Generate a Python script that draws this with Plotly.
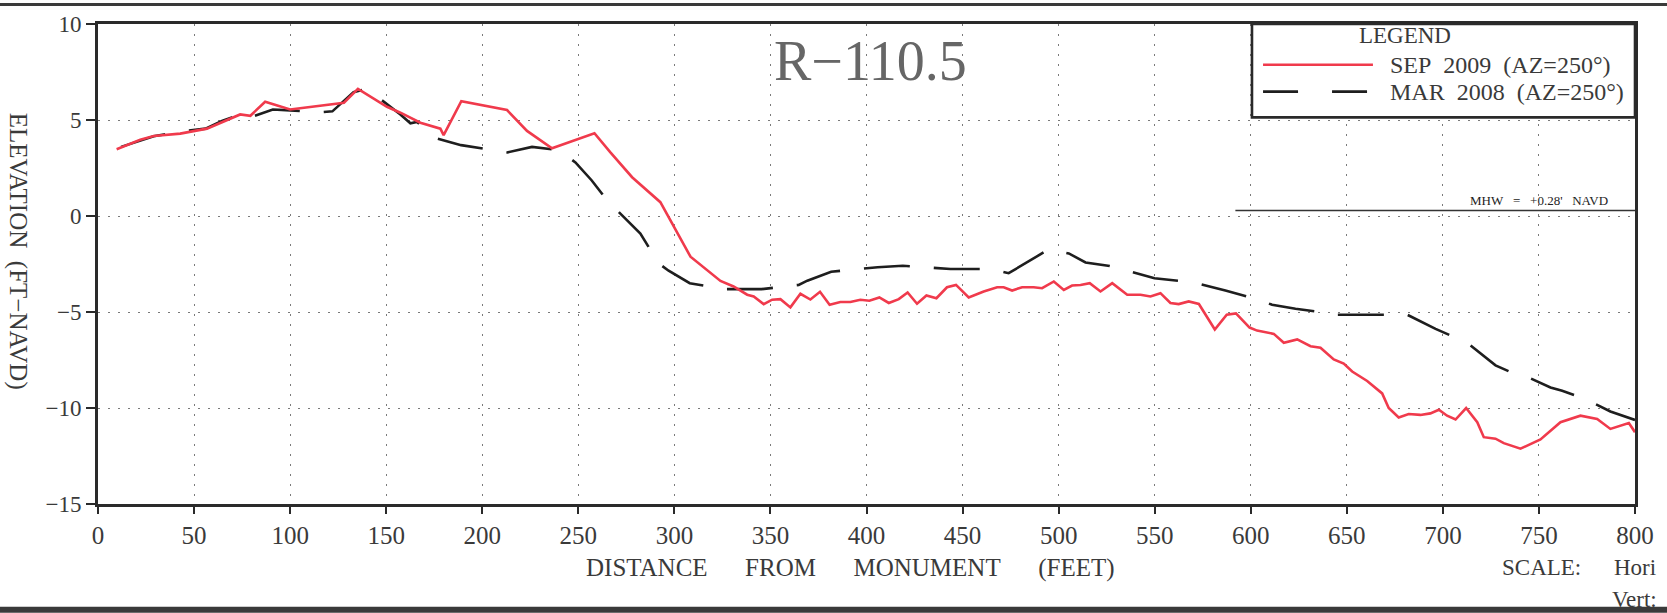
import plotly.graph_objects as go

# ---------------- data ----------------
sep2009_dist = [9.7, 22, 29, 42.8, 56.7, 74, 79.3, 87, 100, 128, 135.3, 150.4, 157.4, 167.8,
                178.2, 179.9, 189.1, 212.9, 223.3, 236.3, 258.4, 266.7, 278, 292.7, 308.4,
                324, 330.8, 337.9, 341.3, 346.5, 350.9, 355.2, 360.4, 365.6, 370.8, 375.8,
                380.8, 386.4, 391.6, 396.8, 401.5, 406.7, 411.6, 416.8, 421.4, 426.3, 431.2,
                436.4, 441.9, 446.6, 453.2, 461, 468, 471.4, 475.8, 481, 487, 491.4, 497.5,
                502.7, 507, 511.4, 516.2, 521.8, 527.9, 535.7, 542.6, 547.8, 553, 558.2,
                562.5, 567.7, 573, 581.3, 587.5, 592.3, 599.4, 603.3, 612, 617.2, 624.2,
                631.1, 636.3, 643.2, 648.4, 652.8, 660.6, 668.4, 671.8, 677, 682.2, 688.3,
                693.5, 697.9, 702.2, 706.6, 712.1, 717.9, 721.3, 727.4, 731.7, 740.4, 750.8,
                756, 761.2, 771.6, 780.3, 787.2, 796.8, 800]
sep2009_elev = [3.48, 3.97, 4.17, 4.29, 4.55, 5.29, 5.22, 5.95, 5.55, 5.9, 6.62, 5.69, 5.38, 4.86,
                4.55, 4.21, 5.98, 5.52, 4.43, 3.53, 4.31, 3.31, 2.02, 0.72, -2.12,
                -3.38, -3.67, -4.1, -4.19, -4.59, -4.36, -4.33, -4.76, -4.05, -4.35, -3.95,
                -4.62, -4.48, -4.48, -4.36, -4.41, -4.24, -4.53, -4.33, -3.98, -4.57, -4.14,
                -4.28, -3.71, -3.59, -4.24, -3.93, -3.71, -3.71, -3.88, -3.71, -3.71, -3.76, -3.41,
                -3.85, -3.62, -3.59, -3.5, -3.93, -3.5, -4.1, -4.1, -4.19, -4.02, -4.53,
                -4.59, -4.45, -4.58, -5.91, -5.14, -5.07, -5.81, -5.97, -6.14, -6.6, -6.43,
                -6.78, -6.86, -7.47, -7.69, -8.1, -8.59, -9.24, -10.0, -10.49, -10.31, -10.36,
                -10.28, -10.09, -10.4, -10.6, -10.0, -10.74, -11.52, -11.6, -11.83, -12.12, -11.64,
                -11.17, -10.74, -10.4, -10.57, -11.09, -10.78, -11.26]

mar2008_dist = [12, 20, 29, 42.8, 56, 64.5, 74, 78.4, 91, 100, 115, 122, 128.7, 133, 140, 147,
                157.4, 162.6, 166, 176.5, 189, 213, 225.9, 239.8, 248.5, 257, 265, 272.8,
                282.3, 291.8, 297, 308, 325.7, 345.3, 364.7, 369.2, 381.6, 405.8, 418.9,
                443.7, 456.2, 464.9, 474, 479.8, 491.4, 494.8, 505.3, 514, 526.6, 549.9,
                563, 573.8, 586.8, 599.9, 611.1, 623.3, 636.3, 641.5, 660.6, 673.6, 681.4,
                696.2, 707.8, 712.6, 727.4, 739, 743.9, 756, 762.1, 774.2, 787.2, 800]
mar2008_elev = [3.6, 3.85, 4.15, 4.4, 4.55, 4.95, 5.28, 5.1, 5.55, 5.5, 5.4, 5.45, 6.07, 6.45, 6.62, 6.07,
                5.29, 4.83, 4.9, 4.04, 3.69, 3.31, 3.6, 3.43, 2.79, 1.85, 0.81, 0.03,
                -0.91, -2.47, -2.85, -3.5, -3.81, -3.81, -3.59, -3.37, -2.9, -2.67, -2.59,
                -2.76, -2.76, -2.76, -2.98, -2.64, -1.98, -1.74, -1.95, -2.42, -2.6, -3.24,
                -3.38, -3.55, -3.88, -4.24, -4.62, -4.83, -5.0, -5.14, -5.14, -5.14, -5.14,
                -5.88, -6.4, -6.6, -7.78, -8.29, -8.38, -8.93, -9.1, -9.53, -10.18, -10.62]

mhw_dist = [592, 800]
mhw_elev = [0.28, 0.28]

x_ticks = [0, 50, 100, 150, 200, 250, 300, 350, 400, 450, 500, 550, 600, 650, 700, 750, 800]
y_ticks = [-15, -10, -5, 0, 5, 10]

profile_name = "R\u2212110.5"
sep_label = "SEP\u00a0\u00a02009\u00a0\u00a0(AZ=250\u00b0)"
mar_label = "MAR\u00a0\u00a02008\u00a0\u00a0(AZ=250\u00b0)"

# ---------------- figure ----------------
FONT = "Liberation Serif"
INK = "#2a2a2a"
TXT = "#3a3a3a"
RED = "#f03a4c"
BLACK = "#1e1e1e"
BLACK_DASH = "46px,24px"

fig = go.Figure()

fig.add_trace(go.Scatter(
    x=mar2008_dist, y=mar2008_elev, mode="lines", name=mar_label, showlegend=False,
    line=dict(color=BLACK, width=2.6, dash=BLACK_DASH),
))
fig.add_trace(go.Scatter(
    x=sep2009_dist, y=sep2009_elev, mode="lines", name=sep_label, showlegend=False,
    line=dict(color=RED, width=2.6),
))
fig.add_trace(go.Scatter(
    x=mhw_dist, y=mhw_elev, mode="lines", showlegend=False, hoverinfo="skip",
    line=dict(color="#333333", width=1.5),
))

axis_common = dict(
    showline=True, mirror=True, linecolor=INK, linewidth=2.6,
    showgrid=True, gridcolor="#7a7a7a", gridwidth=1.4, griddash="2px,8px",
    zeroline=False, ticks="outside", tickcolor=INK, tickwidth=1.5,
)

fig.update_xaxes(range=[0, 800], tickvals=x_ticks, ticklen=7,
                 tickfont=dict(family=FONT, size=25, color=TXT), **axis_common)
fig.update_yaxes(range=[-15, 10], tickvals=y_ticks, ticklen=9,
                 tickfont=dict(family=FONT, size=23, color=TXT), **axis_common)

gap = "\u00a0" * 6
SEP_Y = 0.9151
MAR_Y = 0.8592
annotations = [
    dict(text=profile_name, xref="paper", yref="paper", x=0.5023, y=0.9234,
         xanchor="center", yanchor="middle", showarrow=False,
         font=dict(family=FONT, size=56, color="#666666")),
    dict(text="ELEVATION\u00a0\u00a0(FT\u2212NAVD)", xref="paper", yref="paper",
         x=-0.0515, y=0.526, xanchor="center", yanchor="middle", textangle=90,
         showarrow=False, font=dict(family=FONT, size=25, color=TXT)),
    dict(text="DISTANCE" + gap + "FROM" + gap + "MONUMENT" + gap + "(FEET)",
         xref="paper", yref="paper", x=0.4893, y=-0.1325, xanchor="center",
         yanchor="middle", showarrow=False, font=dict(family=FONT, size=25, color=TXT)),
    dict(text="SCALE:", xref="paper", yref="paper", x=0.912, y=-0.1325,
         xanchor="left", yanchor="middle", showarrow=False,
         font=dict(family=FONT, size=23, color=TXT)),
    dict(text="Hori", xref="paper", yref="paper", x=0.985, y=-0.1325,
         xanchor="left", yanchor="middle", showarrow=False,
         font=dict(family=FONT, size=23, color=TXT)),
    dict(text="Vert:", xref="paper", yref="paper", x=0.9838, y=-0.1988,
         xanchor="left", yanchor="middle", showarrow=False,
         font=dict(family=FONT, size=23, color=TXT)),
    dict(text="MHW\u00a0\u00a0\u00a0=\u00a0\u00a0\u00a0+0.28'\u00a0\u00a0\u00a0NAVD", xref="x", yref="y",
         x=750, y=mhw_elev[0], xanchor="center", yanchor="bottom", yshift=1,
         showarrow=False, font=dict(family=FONT, size=13, color="#222222")),
    # legend texts
    dict(text="LEGEND", xref="paper", yref="paper", x=0.8504, y=0.9752,
         xanchor="center", yanchor="middle", showarrow=False,
         font=dict(family=FONT, size=23, color=TXT)),
    dict(text=sep_label, xref="paper", yref="paper", x=0.840, y=SEP_Y,
         xanchor="left", yanchor="middle", showarrow=False, borderpad=0,
         font=dict(family=FONT, size=24, color=TXT)),
    dict(text=mar_label, xref="paper", yref="paper", x=0.840, y=MAR_Y,
         xanchor="left", yanchor="middle", showarrow=False, borderpad=0,
         font=dict(family=FONT, size=24, color=TXT)),
]

shapes = [
    # drawing frame lines
    dict(type="line", xref="paper", yref="paper", x0=-0.1, x1=1.1, y0=1.0404, y1=1.0404,
         line=dict(color="#3a3a3a", width=3)),
    dict(type="line", xref="paper", yref="paper", x0=-0.1, x1=1.1, y0=-0.2205, y1=-0.2205,
         line=dict(color="#3a3a3a", width=6)),
    # legend box and samples
    dict(type="rect", xref="paper", yref="paper", x0=0.7508, x1=1.0, y0=0.8054, y1=1.0,
         fillcolor="white", line=dict(color=INK, width=2.6), layer="above"),
    dict(type="line", xref="paper", yref="paper", x0=0.758, x1=0.8295, y0=SEP_Y, y1=SEP_Y,
         line=dict(color=RED, width=2.6), layer="above"),
    dict(type="line", xref="paper", yref="paper", x0=0.758, x1=0.8295, y0=MAR_Y, y1=MAR_Y,
         line=dict(color=BLACK, width=2.6, dash="35px,34px"), layer="above"),
]

fig.update_layout(
    width=1667, height=613,
    margin=dict(l=98, r=32, t=21, b=109, pad=0),
    paper_bgcolor="white", plot_bgcolor="white",
    font=dict(family=FONT, color=TXT),
    annotations=annotations, shapes=shapes,
    showlegend=False,
)

fig.write_html("out.html", config={"displayModeBar": False},
               post_script="document.body.style.margin='0';")
